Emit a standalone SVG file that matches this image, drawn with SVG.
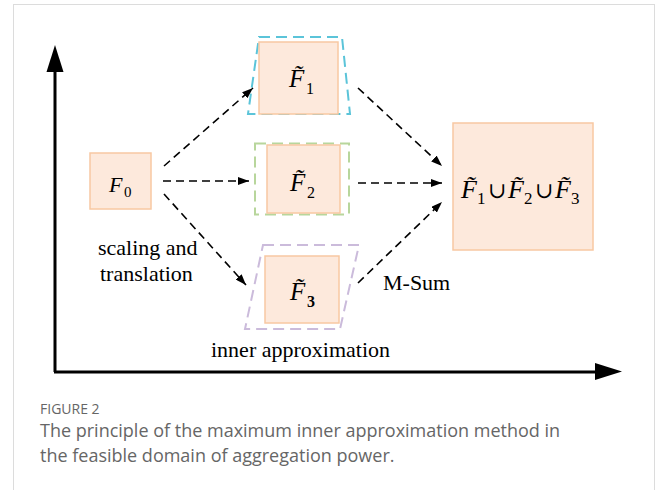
<svg xmlns="http://www.w3.org/2000/svg" width="656" height="490" viewBox="0 0 656 490">
  <style>
    .box { fill: #fde9dc; stroke: #f8c8a2; stroke-width: 1.5; }
    .lbl { font-family: "Liberation Serif", "Times New Roman", serif; fill: #000; }
    .it { font-style: italic; }
    .up { font-style: normal; }
    .cup { font-style: normal; font-family: "DejaVu Serif", "Liberation Serif", serif; font-size: 22px; }
    .conn { fill: none; stroke: #000; stroke-width: 1.6; stroke-dasharray: 8 5; }
    .axis { fill: none; stroke: #000; stroke-width: 3; }
    .hull { fill: none; stroke-width: 2; stroke-dasharray: 11 6; }
    .cap { font-family: "Open Sans", "Noto Sans", sans-serif; fill: #666; }
  </style>
  <defs>
    <marker id="head" viewBox="0 0 11 8" refX="11" refY="4" markerWidth="11" markerHeight="8" markerUnits="userSpaceOnUse" orient="auto">
      <path d="M0,0 L11,4 L0,8 Z" fill="#000"/>
    </marker>
  </defs>

  <!-- panel frame -->
  <rect x="13.5" y="4.5" width="641" height="500" fill="#fff" stroke="#dcdcdc" stroke-width="1"/>

  <!-- axes -->
  <g id="axes">
    <path class="axis" d="M55,372 L55,70"/>
    <path d="M46.5,72 L55,45 L63.5,72 Z" fill="#000"/>
    <path class="axis" d="M54,372 L597,372"/>
    <path d="M595,363 L622,371.5 L595,380 Z" fill="#000"/>
  </g>

  <!-- approximation outlines -->
  <g id="hull-1"><path class="hull" stroke="#5bc4d9" d="M259,37 L342,37 L350,114 L248,114 Z"/></g>
  <g id="hull-2"><rect class="hull" stroke="#b8d69c" x="255" y="143.5" width="94" height="71"/></g>
  <g id="hull-3"><path class="hull" stroke="#cbbbdb" d="M263,245 L359,245 L340,329 L245,329 Z"/></g>

  <!-- connectors -->
  <g id="connectors">
    <path class="conn" marker-end="url(#head)" d="M164,166 L253,88"/>
    <path class="conn" marker-end="url(#head)" d="M163,181 L249,181"/>
    <path class="conn" marker-end="url(#head)" d="M164,194 L246,285"/>
    <path class="conn" marker-end="url(#head)" d="M358,88 L442,166"/>
    <path class="conn" marker-end="url(#head)" d="M358,183 L442,183"/>
    <path class="conn" marker-end="url(#head)" d="M358,283 L442,202"/>
  </g>

  <!-- F0 -->
  <g id="node-f0">
    <rect class="box" x="90" y="153" width="61" height="56"/>
    <text class="lbl it" x="109" y="192" font-size="22">F<tspan class="up" x="124" y="197" font-size="15">0</tspan></text>
  </g>

  <!-- F1 -->
  <g id="node-f1">
    <rect class="box" x="259" y="42" width="79" height="72"/>
    <text class="lbl it" x="289" y="87" font-size="25">F&#x303;<tspan class="up" x="306" y="94" font-size="16">1</tspan></text>
  </g>

  <!-- F2 -->
  <g id="node-f2">
    <rect class="box" x="267" y="145" width="73" height="68"/>
    <text class="lbl it" x="290" y="191" font-size="25">F&#x303;<tspan class="up" x="307" y="198" font-size="16">2</tspan></text>
  </g>

  <!-- F3 -->
  <g id="node-f3">
    <rect class="box" x="265" y="256" width="74" height="67"/>
    <text class="lbl it" x="290" y="300" font-size="25">F&#x303;<tspan class="up" x="307" y="307" font-size="16" font-weight="bold">3</tspan></text>
  </g>

  <!-- union -->
  <g id="node-union">
    <rect class="box" x="453" y="123" width="140" height="127"/>
    <text class="lbl it" x="461" y="198" font-size="26">F&#x303;<tspan class="up" x="477" y="204" font-size="17">1</tspan><tspan class="cup" x="488" y="198">∪</tspan><tspan x="508" y="198">F&#x303;</tspan><tspan class="up" x="524" y="204" font-size="17">2</tspan><tspan class="cup" x="535" y="198">∪</tspan><tspan x="555" y="198">F&#x303;</tspan><tspan class="up" x="571" y="204" font-size="17">3</tspan></text>
  </g>

  <!-- annotations -->
  <g id="notes">
    <text class="lbl" x="98" y="255" font-size="22">scaling and</text>
    <text class="lbl" x="100" y="281" font-size="22">translation</text>
    <text class="lbl" x="383" y="290" font-size="22">M-Sum</text>
    <text class="lbl" x="211" y="357" font-size="22">inner approximation</text>
  </g>

  <!-- caption -->
  <g id="caption">
    <text class="cap" x="40" y="414" font-size="14" fill="#777">FIGURE 2</text>
    <text class="cap" x="40" y="437" font-size="18">The principle of the maximum inner approximation method in</text>
    <text class="cap" x="40" y="462" font-size="18">the feasible domain of aggregation power.</text>
  </g>
</svg>
